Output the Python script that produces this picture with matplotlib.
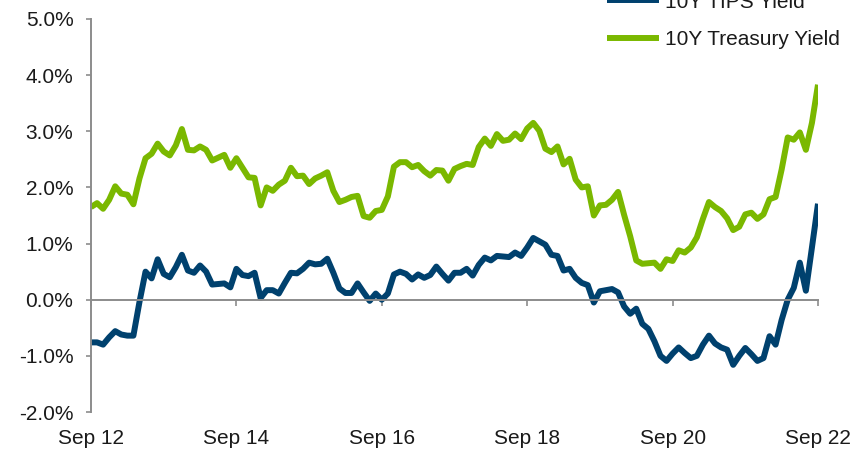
import matplotlib.pyplot as plt
import numpy as np
from matplotlib.ticker import FuncFormatter

plt.rcParams["font.family"] = ["Liberation Sans", "DejaVu Sans"]

# month-end yields, Sep 2012 .. Sep 2022 (percent)
tips_yield = [
    -0.76, -0.76, -0.80, -0.67,
    -0.56, -0.62, -0.64, -0.64, -0.04, 0.50, 0.38, 0.72, 0.46, 0.40, 0.58, 0.80,
    0.52, 0.48, 0.61, 0.50, 0.27, 0.28, 0.29, 0.22, 0.55, 0.44, 0.42, 0.48,
    0.03, 0.17, 0.17, 0.11, 0.30, 0.48, 0.47, 0.55, 0.66, 0.63, 0.64, 0.73,
    0.48, 0.20, 0.12, 0.12, 0.29, 0.13, -0.02, 0.11, 0.00, 0.11, 0.45, 0.50,
    0.46, 0.36, 0.45, 0.39, 0.44, 0.59, 0.46, 0.34, 0.48, 0.48, 0.55, 0.43,
    0.62, 0.75, 0.70, 0.78, 0.77, 0.76, 0.84, 0.78, 0.93, 1.10, 1.04, 0.98,
    0.80, 0.78, 0.52, 0.55, 0.39, 0.30, 0.26, -0.05, 0.15, 0.17, 0.19, 0.13,
    -0.12, -0.25, -0.16, -0.43, -0.52, -0.74, -1.00, -1.09, -0.96, -0.85, -0.95, -1.04,
    -1.00, -0.80, -0.64, -0.78, -0.85, -0.89, -1.16, -1.00, -0.86, -0.97, -1.09, -1.04,
    -0.65, -0.80, -0.36, 0.00, 0.21, 0.66, 0.16, 0.93, 1.71,
]
treasury_yield = [
    1.65, 1.72, 1.62, 1.78,
    2.02, 1.89, 1.87, 1.70, 2.16, 2.52, 2.60, 2.78, 2.64, 2.57, 2.75, 3.04,
    2.67, 2.66, 2.73, 2.67, 2.48, 2.53, 2.58, 2.35, 2.52, 2.35, 2.18, 2.17,
    1.68, 2.00, 1.94, 2.05, 2.12, 2.35, 2.20, 2.21, 2.06, 2.16, 2.21, 2.27,
    1.94, 1.74, 1.78, 1.83, 1.85, 1.49, 1.46, 1.58, 1.60, 1.84, 2.37, 2.45,
    2.45, 2.36, 2.40, 2.29, 2.21, 2.31, 2.30, 2.12, 2.33, 2.38, 2.42, 2.40,
    2.72, 2.87, 2.74, 2.95, 2.83, 2.85, 2.96, 2.86, 3.05, 3.15, 3.01, 2.69,
    2.63, 2.73, 2.41, 2.51, 2.14, 2.00, 2.02, 1.50, 1.68, 1.69, 1.78, 1.92,
    1.51, 1.13, 0.70, 0.64, 0.65, 0.66, 0.55, 0.72, 0.69, 0.88, 0.84, 0.93,
    1.11, 1.44, 1.74, 1.65, 1.58, 1.45, 1.24, 1.30, 1.52, 1.55, 1.44, 1.52,
    1.79, 1.83, 2.32, 2.89, 2.85, 2.98, 2.67, 3.15, 3.83,
]
tick_labels = ["Sep 12", "Sep 14", "Sep 16", "Sep 18", "Sep 20", "Sep 22"]
tick_months = [0, 24, 48, 72, 96, 120]
series_names = ["10Y TIPS Yield", "10Y Treasury Yield"]

navy = "#00416e"
green = "#7ab800"
axis_grey = "#8c8c8c"
text_col = "#1a1a1a"

months = np.arange(len(tips_yield))

fig = plt.figure(figsize=(8.64, 4.54), dpi=100)
ax = fig.add_axes([91 / 864, 1 - 412 / 454, (818 - 91) / 864, (412 - 19) / 454])

ax.plot(months, tips_yield, color=navy, lw=4.3, solid_joinstyle="round",
        solid_capstyle="butt", label=series_names[0])
ax.plot(months, treasury_yield, color=green, lw=4.3, solid_joinstyle="round",
        solid_capstyle="butt", label=series_names[1])

ax.set_xlim(0, 120)
ax.set_ylim(-2, 5)
ax.set_yticks(np.arange(-2, 6, 1))
ax.yaxis.set_major_formatter(FuncFormatter(lambda v, _: f"{v:.1f}%"))

for s in ("top", "right"):
    ax.spines[s].set_visible(False)
ax.spines["left"].set_color(axis_grey)
ax.spines["left"].set_linewidth(1.4)
# x axis line sits on the zero level, labels stay at the bottom
ax.spines["bottom"].set_position(("data", 0))
ax.spines["bottom"].set_color(axis_grey)
ax.spines["bottom"].set_linewidth(1.4)

ax.tick_params(axis="y", direction="out", length=3.6, width=1.2, color=axis_grey,
               labelsize=15, labelcolor=text_col, pad=9)
ax.set_xticks(tick_months)
ax.tick_params(axis="x", direction="out", length=4.5, width=1.2, color=axis_grey,
               labelbottom=False)

sec = ax.secondary_xaxis("bottom")
sec.set_xticks(tick_months)
sec.set_xticklabels(tick_labels)
sec.spines["bottom"].set_visible(False)
sec.tick_params(axis="x", length=0, labelsize=15, labelcolor=text_col, pad=12)

ax.legend(loc="center left", bbox_to_anchor=(607 / 864, 1 - 21 / 454),
          bbox_transform=fig.transFigure, frameon=False, fontsize=15,
          borderpad=0, borderaxespad=0, handlelength=2.5, handletextpad=0.3,
          labelspacing=0.9, labelcolor=text_col)

fig.savefig("out.png", dpi=100)
